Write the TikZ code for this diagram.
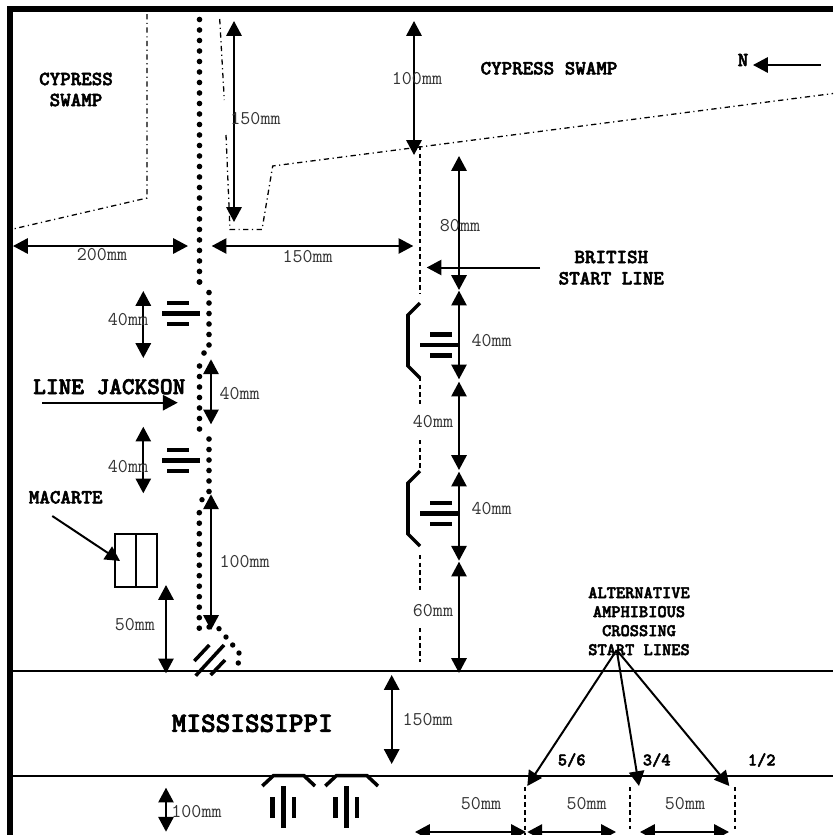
\documentclass[tikz,border=0pt]{standalone}
\usepackage{fontspec}
\newfontface\heavytt{lmmonolt10-bold.otf}[FakeBold=2.6]
\usetikzlibrary{arrows.meta}

\begin{document}
\begin{tikzpicture}[x=0.03cm,y=-0.03cm,
  bothways/.style={{Triangle[length=12.6pt,width=13pt]}-{Triangle[length=12.6pt,width=13pt]},line width=1.7pt},
  oneway/.style={-{Triangle[length=12.6pt,width=13pt]},line width=1.7pt},
  swamp/.style={line width=1.1pt,dash pattern=on 4.5pt off 3pt on 1pt off 3pt},
  startline/.style={line width=1.5pt,dash pattern=on 3.8pt off 2.8pt},
  jackson/.style={line width=4.8pt,line cap=round,dash pattern=on 0pt off 8.96pt},
  bar/.style={line width=3.8pt},
  bank/.style={line width=1.6pt},
  dimlabel/.style={font=\fontfamily{lmtt}\fontseries{m}\fontsize{16.6pt}{18pt}\selectfont,text=black!80},
  title/.style={font=\heavytt\fontsize{17.1pt}{18pt}\selectfont},
  bigtitle/.style={font=\heavytt\fontsize{20.6pt}{22pt}\selectfont},
  rivertitle/.style={font=\heavytt\fontsize{23.8pt}{25pt}\selectfont},
  smalltitle/.style={font=\heavytt\fontsize{15pt}{16pt}\selectfont}]

\useasboundingbox (0,0) rectangle (833,835);
\clip (0,0) rectangle (833,835);

% frame and river
\draw[line width=4.7pt] (10,835) -- (10,9) -- (833,9);
\draw[bank] (13,671) -- (833,671);
\draw[bank] (13,775.7) -- (833,775.7);

% swamp edges
\draw[swamp] (147,14) -- (147,198) -- (13,229);
\draw[swamp] (219.7,19) -- (224.3,100);
\draw[swamp] (226,135) -- (230,229.5) -- (262,229.5) -- (272.7,166) -- (833,93.5);

% line jackson
\draw[jackson] (199.5,19.5) -- (199.5,283);
\draw[jackson] (199.5,282) -- (202,284.5);
\draw[jackson] (209,292.5) -- (209,346);
\draw[jackson] (204,353) -- (199.5,356.5);
\draw[jackson] (199.5,366) -- (199.5,420);
\draw[jackson] (199.5,429) -- (202.5,432);
\draw[jackson] (209,439) -- (209,492.5);
\draw[jackson] (199.3,512.7) -- (199.3,629);
\foreach \x/\y in {202/499.7,209/627,219/628.7,226/637,232.7/645,239/653,238.3/663}
  \fill (\x,\y) circle[radius=2.7];

% british line
\draw[startline] (420,146) -- (420,293);
\draw[startline] (420,377) -- (420,404);
\draw[startline] (420,440) -- (420,470);
\draw[startline] (420,555) -- (420,593);
\draw[startline] (420,628) -- (420,662);
\draw[startline] (525,787) -- (525,835);
\draw[startline] (630,787) -- (630,829);
\draw[startline] (735,787) -- (735,829);

\foreach \y in {303,471}
  \draw[line width=3pt] (420,\y) -- (408,\y+12) -- (408,\y+63) -- (420,\y+75);

% guns
\foreach \x/\y/\d in {162/313.3/5,162/460.3/5,420/345/10,420/513.3/10} {
  \draw[bar] (\x,\y) -- (\x+37.5,\y);
  \draw[bar] (\x+\d,\y-10.5) -- (\x+\d+22,\y-10.5);
  \draw[bar] (\x+\d,\y+10.5) -- (\x+\d+22,\y+10.5);
}
\foreach \x in {283.3,346.3} {
  \draw[bar] (\x,786) -- (\x,828);
  \draw[bar] (\x-10.6,797) -- (\x-10.6,818);
  \draw[bar] (\x+10.6,797) -- (\x+10.6,818);
  \draw[line width=3pt] (\x-21,786) -- (\x-10,775.7) -- (\x+20.7,775.7) -- (\x+31.7,786);
}
\draw[line width=3pt] (195.7,675.7) -- (224,645);
\draw[line width=3pt] (194.3,661) -- (209.3,645);
\draw[line width=3pt] (210.7,675) -- (225,660);

% macarte
\draw[line width=1.4pt] (114.7,534) rectangle (157.3,587);
\draw[line width=1.4pt] (136,534) -- (136,587);

% measures
\draw[bothways] (234,21) -- (234,222);
\draw[bothways] (414,21) -- (414,155);
\draw[bothways] (13,246) -- (188,246);
\draw[bothways] (211.7,246) -- (413.3,246);
\draw[bothways] (459,156) -- (459,290);
\draw[bothways] (459,290.7) -- (459,379.3);
\draw[bothways] (459,381.7) -- (459,470);
\draw[bothways] (459,471.7) -- (459,560.7);
\draw[bothways] (459,561.7) -- (459,673);
\draw[bothways] (143.3,291) -- (143.3,358);
\draw[bothways] (211,359.3) -- (211,424.3);
\draw[bothways] (143.3,426.7) -- (143.3,493.3);
\draw[bothways] (211,494.3) -- (211,630);
\draw[bothways] (166,585) -- (166,673.3);
\draw[bothways] (391.7,675) -- (391.7,764);
\draw[bothways] (166,787.7) -- (166,831.7);
\draw[bothways] (415,832) -- (526,832);
\draw[bothways] (527.3,832) -- (616,832);
\draw[bothways] (640,832) -- (729,832);

% pointers
\coordinate (crossing) at (616.7,650);
\draw[oneway] (820.7,65) -- (753,65);
\draw[oneway] (540,267.5) -- (426.7,267.5);
\draw[oneway] (42.3,402.7) -- (177.7,402.7);
\draw[oneway] (52.3,516) -- (120,561);
\draw[oneway] (crossing) -- (527.3,786);
\draw[oneway] (crossing) -- (639,786);
\draw[oneway] (crossing) -- (729.3,786);

% lengths
\node (top150) [dimlabel] at (255.5,118.7) {150mm};
\node (top100) [dimlabel] at (417,79) {100mm};
\node (left200) [dimlabel] at (102,255) {200mm};
\node (mid150) [dimlabel] at (307.7,257) {150mm};
\node (brit80) [dimlabel] at (460,226) {80mm};
\node (brita40) [dimlabel] at (491.7,340.7) {40mm};
\node (britb40) [dimlabel] at (433,421.7) {40mm};
\node (britc40) [dimlabel] at (491.7,509) {40mm};
\node (brit60) [dimlabel] at (433,610.7) {60mm};
\node (river150) [dimlabel] at (427.7,720) {150mm};
\node (gapa40) [dimlabel] at (128,320) {40mm};
\node (gapb40) [dimlabel] at (239.7,394) {40mm};
\node (gapc40) [dimlabel] at (128,466.7) {40mm};
\node (gap100) [dimlabel] at (244.7,561.7) {100mm};
\node (bank50) [dimlabel] at (134.8,625) {50mm};
\node (bank100) [dimlabel] at (196.5,811.7) {100mm};
\node (boat56) [dimlabel] at (481,804) {50mm};
\node (boat34) [dimlabel] at (586.7,804) {50mm};
\node (boat12) [dimlabel] at (685,804) {50mm};

% names
\node (swampa) [title] at (76,79) {CYPRESS};
\node (swampb) [title] at (76,100) {SWAMP};
\node (swampc) [title] at (549,68.3) {CYPRESS SWAMP};
\node (north) [title] at (743,60) {N};
\node (brita) [title] at (611.3,257) {BRITISH};
\node (britb) [title] at (611.3,278.3) {START LINE};
\node (linej) [bigtitle] at (109.3,386.7) {LINE JACKSON};
\node (macarte) [title] at (65.7,497.3) {MACARTE};
\node (river) [rivertitle] at (252.3,723.3) {MISSISSIPPI};
\node (alta) [smalltitle] at (639,592.7) {ALTERNATIVE};
\node (altb) [smalltitle] at (639,611.7) {AMPHIBIOUS};
\node (altc) [smalltitle] at (639,630.7) {CROSSING};
\node (altd) [smalltitle] at (639,649.7) {START LINES};
\node (lines56) [smalltitle] at (571.7,760) {5/6};
\node (lines34) [smalltitle] at (656.7,760) {3/4};
\node (lines12) [smalltitle] at (761.7,760) {1/2};
\end{tikzpicture}
\end{document}
